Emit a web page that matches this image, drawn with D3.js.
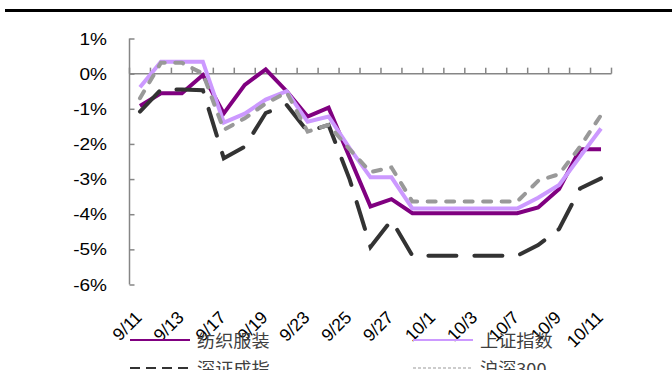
<!DOCTYPE html>
<html>
<head>
<meta charset="utf-8">
<script src="https://cdn.jsdelivr.net/npm/d3@7"></script>
<style>
  html, body { margin: 0; padding: 0; background: #fff; }
  svg { display: block; }
</style>
</head>
<body>
<svg id="chart" width="672" height="370"></svg>
<script>
// Trading days (weekdays, Mid-Autumn and National Day holidays shown flat)
const categories = ["9/11","9/12","9/13","9/16","9/17","9/18","9/19","9/20","9/23","9/24","9/25","9/26","9/27","9/30","10/1","10/2","10/3","10/4","10/7","10/8","10/9","10/10","10/11"];
const tickLabels = ["9/11","9/13","9/17","9/19","9/23","9/25","9/27","10/1","10/3","10/7","10/9","10/11"];

// Cumulative change, %
const textile  = [-0.92,-0.56,-0.56,-0.04,-1.13,-0.32,0.12,-0.50,-1.22,-0.97,-2.38,-3.78,-3.57,-3.97,-3.97,-3.97,-3.97,-3.97,-3.97,-3.81,-3.28,-2.15,-2.15];
const shanghai = [-0.39,0.34,0.34,0.34,-1.39,-1.14,-0.74,-0.50,-1.37,-1.22,-2.12,-2.95,-2.95,-3.84,-3.84,-3.84,-3.84,-3.84,-3.84,-3.53,-3.17,-2.36,-1.56];
const shenzhen = [-1.08,-0.45,-0.45,-0.47,-2.41,-2.08,-1.12,-0.89,-1.65,-1.46,-3.00,-4.93,-4.17,-5.18,-5.18,-5.18,-5.18,-5.18,-5.18,-4.88,-4.42,-3.27,-2.98];
const hs300    = [-0.70,0.31,0.31,0.00,-1.60,-1.27,-0.85,-0.53,-1.65,-1.46,-2.15,-2.80,-2.67,-3.64,-3.64,-3.64,-3.64,-3.64,-3.64,-3.05,-2.86,-2.08,-1.18];

const yTicks = [1, 0, -1, -2, -3, -4, -5, -6];

const seriesNames = ["纺织服装", "上证指数", "深证成指", "沪深300"];

const svg = d3.select("#chart");
const plotLeft = 129.5, plotRight = 611.5, plotTop = 38.5, plotBottom = 284.5;

const x = d3.scaleBand().domain(categories).range([plotLeft, plotRight]).paddingInner(0).paddingOuter(0);
const y = d3.scaleLinear().domain([-6, 1]).range([plotBottom, plotTop]);

const axisColor = "#868686";
const latin = "'Liberation Sans', Arial, sans-serif";
const cjk = "'Noto Sans CJK SC', 'Liberation Sans', sans-serif";

// top rule
svg.append("line")
  .attr("x1", 5).attr("x2", 672).attr("y1", 10.5).attr("y2", 10.5)
  .attr("stroke", "#000").attr("stroke-width", 3);

// y axis with inward ticks
const yAxis = d3.axisRight(y).tickValues(yTicks).tickSize(5).tickFormat("");
const gy = svg.append("g").attr("transform", `translate(${plotLeft},0)`).call(yAxis);
gy.select(".domain").attr("stroke", axisColor).attr("stroke-width", 1.5).attr("d", `M0,${plotTop}V${plotBottom}`);
gy.selectAll(".tick line").attr("stroke", axisColor).attr("stroke-width", 1.5);

svg.append("g").selectAll("text").data(yTicks).join("text")
  .attr("transform", d => `translate(107,${y(d)}) scale(1.12,1)`)
  .attr("dy", "0.36em")
  .attr("text-anchor", "end")
  .attr("font-family", latin).attr("font-size", 17).attr("fill", "#000")
  .text(d => d + "%");

// x axis at 0% with tick marks between categories
const boundaries = categories.map(c => x(c)).concat([x(categories[categories.length - 1]) + x.bandwidth()]);
const gx = svg.append("g");
gx.append("line")
  .attr("x1", plotLeft).attr("x2", plotRight).attr("y1", y(0)).attr("y2", y(0))
  .attr("stroke", axisColor).attr("stroke-width", 1.5);
gx.selectAll("line.tk").data(boundaries).join("line").attr("class", "tk")
  .attr("x1", d => d).attr("x2", d => d)
  .attr("y1", y(0)).attr("y2", y(0) - 6)
  .attr("stroke", axisColor).attr("stroke-width", 1.5);

// category labels along the bottom
const cx = c => x(c) + x.bandwidth() / 2;
svg.append("g").selectAll("text").data(tickLabels).join("text")
  .attr("transform", d => `translate(${cx(d) + 3},${plotBottom + 34}) rotate(-45)`)
  .attr("text-anchor", "end")
  .attr("font-family", latin).attr("font-size", 17.5).attr("fill", "#000")
  .text(d => d);

// series lines
const series = [
  { name: seriesNames[0], values: textile,  color: "#800080", width: 4, dash: null, cap: "butt" },
  { name: seriesNames[1], values: shanghai, color: "#CC99FF", width: 4, dash: null, cap: "butt" },
  { name: seriesNames[2], values: shenzhen, color: "#333333", width: 4, dash: "28,18", cap: "round" },
  { name: seriesNames[3], values: hs300,    color: "#999999", width: 4, dash: "8,10.5", cap: "round" }
];

const line = d3.line().x((d, i) => cx(categories[i])).y(d => y(d));

svg.append("g").selectAll("path").data(series).join("path")
  .attr("d", s => line(s.values))
  .attr("fill", "none")
  .attr("stroke", s => s.color)
  .attr("stroke-width", s => s.width)
  .attr("stroke-dasharray", s => s.dash)
  .attr("stroke-linecap", s => s.cap)
  .attr("stroke-linejoin", "miter");

// legend (two rows, two columns)
const legend = [
  { s: series[0], x: 130, y: 340, dash: null, w: 2 },
  { s: series[1], x: 413, y: 340, dash: null, w: 2 },
  { s: series[2], x: 130, y: 368, dash: "10,6", w: 2 },
  { s: series[3], x: 413, y: 368, dash: "3,2", w: 1 }
];
const lg = svg.append("g").selectAll("g").data(legend).join("g");
lg.append("line")
  .attr("x1", d => d.x).attr("x2", d => d.x + 60)
  .attr("y1", d => d.y).attr("y2", d => d.y)
  .attr("stroke", d => d.s.color).attr("stroke-width", d => d.w)
  .attr("stroke-dasharray", d => d.dash);
lg.append("text")
  .attr("transform", d => `translate(${d.x + 67},${d.y}) scale(1.1,1)`)
  .attr("dy", "0.42em")
  .attr("font-family", cjk).attr("font-size", 16.5).attr("fill", "#404040")
  .text(d => d.s.name);
</script>
</body>
</html>
